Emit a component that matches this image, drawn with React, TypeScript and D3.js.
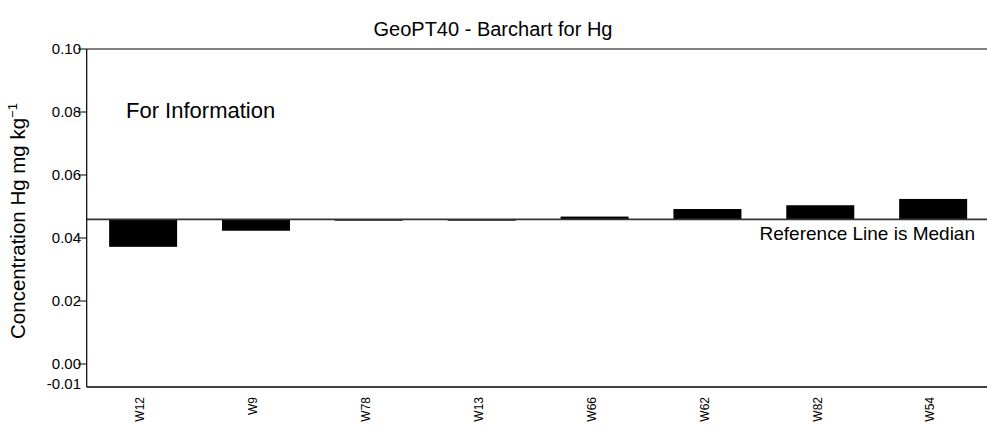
import React from "react";
import * as d3 from "d3";

const categories = ["W12", "W9", "W78", "W13", "W66", "W62", "W82", "W54"];
const values = [0.0372, 0.0423, 0.0455, 0.0455, 0.0468, 0.0492, 0.0504, 0.0524];
const medianValue = 0.0459;
const yTicks = [0.0, 0.02, 0.04, 0.06, 0.08, 0.1];
const yMinLabel = "-0.01";
const titleText = "GeoPT40 - Barchart for Hg";
const noteText = "For Information";
const refText = "Reference Line is Median";

const W = 987;
const H = 430;
const left = 86.7;
const top = 49;
const bottom = 387;
const font = "'Liberation Sans', Arial, sans-serif";

export default function App() {
  const x = d3
    .scaleBand<string>()
    .domain(categories)
    .range([left, left + 8 * 112.86])
    .paddingInner(0.3975)
    .paddingOuter(0.19875);
  const y = d3.scaleLinear().domain([0, 0.1]).range([364, top]);
  const ym = y(medianValue);

  return (
    <svg
      width={W}
      height={H}
      style={{ position: "absolute", left: 0, top: 0, background: "#fff" }}
      fontFamily={font}
    >
      <rect x={0} y={0} width={W} height={H} fill="#fff" />
      <text x={493} y={36} textAnchor="middle" fontSize={20} fill="#000">
        {titleText}
      </text>

      {/* bars */}
      {categories.map((c, i) => {
        const v = values[i];
        const yv = y(v);
        return (
          <rect
            key={c}
            x={x(c)}
            y={Math.min(yv, ym)}
            width={x.bandwidth()}
            height={Math.max(Math.abs(yv - ym), 1)}
            fill="#000"
          />
        );
      })}

      {/* median line */}
      <line x1={left} x2={W} y1={ym} y2={ym} stroke="#333" strokeWidth={1.6} />

      {/* frame */}
      <line x1={left} x2={W} y1={top} y2={top} stroke="#000" strokeWidth={1} />
      <line x1={left} x2={left} y1={top} y2={bottom} stroke="#000" strokeWidth={1.2} />
      <line x1={left} x2={W} y1={bottom} y2={bottom} stroke="#000" strokeWidth={1.6} />

      {/* y ticks */}
      {yTicks.map((t) => (
        <g key={t}>
          <line x1={78} x2={left} y1={y(t)} y2={y(t)} stroke="#000" strokeWidth={1} />
          <text x={81} y={y(t)} dy="0.35em" textAnchor="end" fontSize={15} fill="#000">
            {d3.format(".2f")(t)}
          </text>
        </g>
      ))}
      <text x={81} y={384} dy="0.35em" textAnchor="end" fontSize={15} fill="#000">
        {yMinLabel}
      </text>

      {/* x labels */}
      {categories.map((c) => {
        const cx = (x(c) as number) + x.bandwidth() / 2;
        return (
          <text
            key={c}
            transform={`translate(${cx + 1.3},397) rotate(-90)`}
            textAnchor="end"
            fontSize={12}
            fill="#000"
          >
            {c}
          </text>
        );
      })}

      {/* y title */}
      <text
        transform={`translate(25,221) rotate(-90)`}
        textAnchor="middle"
        fontSize={20.5}
        fill="#000"
      >
        Concentration Hg mg kg
        <tspan fontSize={13} dy={-8}>
          −1
        </tspan>
      </text>

      <text x={126} y={118} fontSize={22} fill="#000">
        {noteText}
      </text>
      <text x={975} y={240} textAnchor="end" fontSize={19} fill="#000">
        {refText}
      </text>
    </svg>
  );
}
